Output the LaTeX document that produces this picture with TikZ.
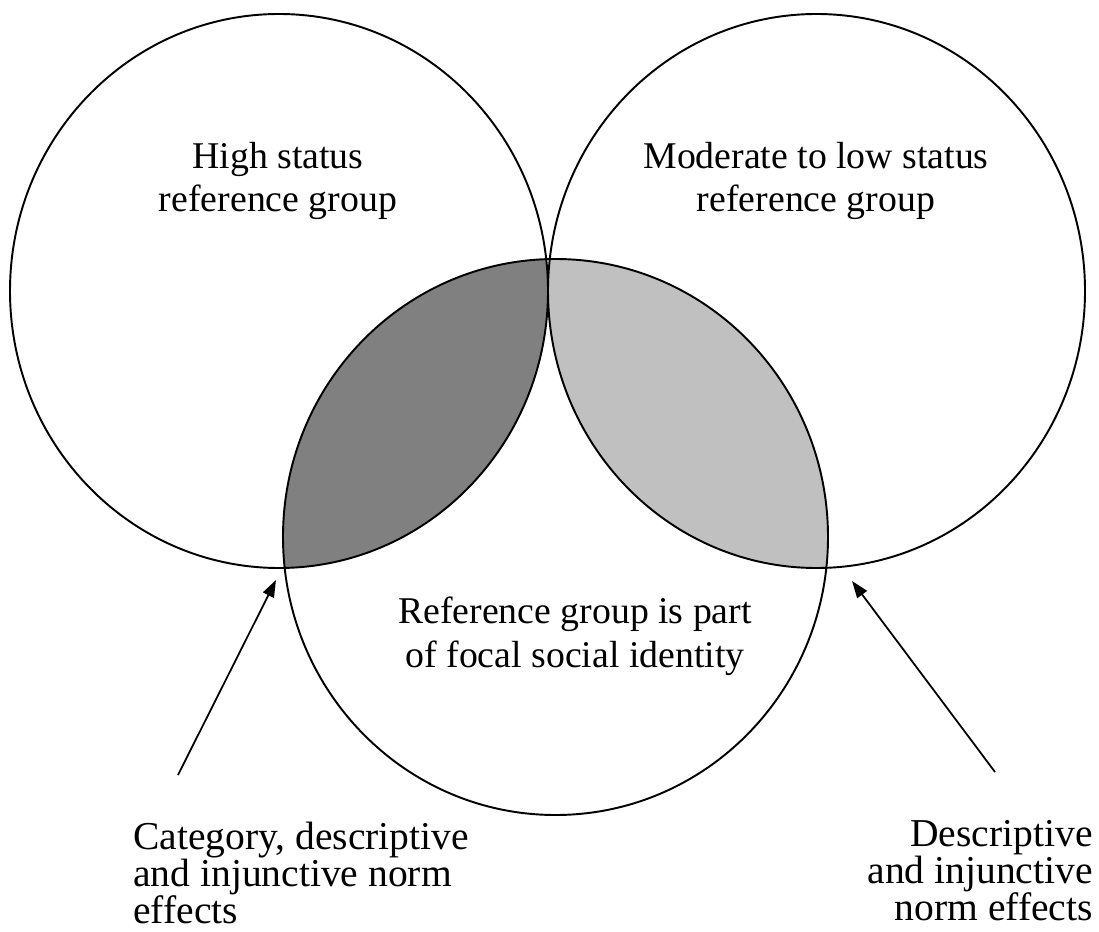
\documentclass[tikz,border=0pt]{standalone}
\usepackage{fontspec}
\setmainfont{Liberation Serif}
\usetikzlibrary{arrows.meta}
\definecolor{darkshade}{HTML}{808080}
\definecolor{lightshade}{HTML}{C0C0C0}
\begin{document}
\begin{tikzpicture}[x=0.02cm, y=-0.02cm,%
% common options for the circles:
ring/.style = {draw, line width=1.1pt},
% common options for the group texts:
grouptext/.style = {align=center, anchor=base, inner sep=0,
            font=\fontsize{21.5}{25}\selectfont},
% common options for the effect texts:
effecttext/.style = {anchor=base, inner sep=0,
            font=\fontsize{22.5}{21}\selectfont},
% common options for the arrows:
pointer/.style = {-{Triangle[length=0.34cm, width=0.24cm]}, line width=1pt}]
\useasboundingbox (0,0) rectangle (1099,932);
\coordinate (L) at (279,291);
\coordinate (R) at (816.5,291);
\coordinate (B) at (555.5,537);
% shaded overlaps
\begin{scope}
\clip (L) ellipse [x radius=269, y radius=277];
\fill[darkshade] (B) ellipse [x radius=272.5, y radius=278];
\end{scope}
\begin{scope}
\clip (R) ellipse [x radius=268.5, y radius=277];
\fill[lightshade] (B) ellipse [x radius=272.5, y radius=278];
\end{scope}
\draw[ring] (L) ellipse [x radius=269, y radius=277];
\draw[ring] (R) ellipse [x radius=268.5, y radius=277];
\draw[ring] (B) ellipse [x radius=272.5, y radius=278];
% anchor base sits on the last line
\node[grouptext] (high) at (278,212) {High status\\reference group};
\node[grouptext] (low) at (816,212) {Moderate to low status\\reference group};
\node[grouptext] (focal) at (575,667) {Reference group is part\\of focal social identity};
\node[effecttext, align=left, anchor=base west] (cat) at (133,923) {Category, descriptive\\and injunctive norm\\effects};
\node[effecttext, align=right, anchor=base east] (desc) at (1093,920) {Descriptive\\and injunctive\\norm effects};
\coordinate (catTail) at (178,775);
\coordinate (catTip) at (276,580);
\coordinate (descTail) at (995,772);
\coordinate (descTip) at (852,581);
\draw[pointer] (catTail) -- (catTip);
\draw[pointer] (descTail) -- (descTip);
\end{tikzpicture}
\end{document}
